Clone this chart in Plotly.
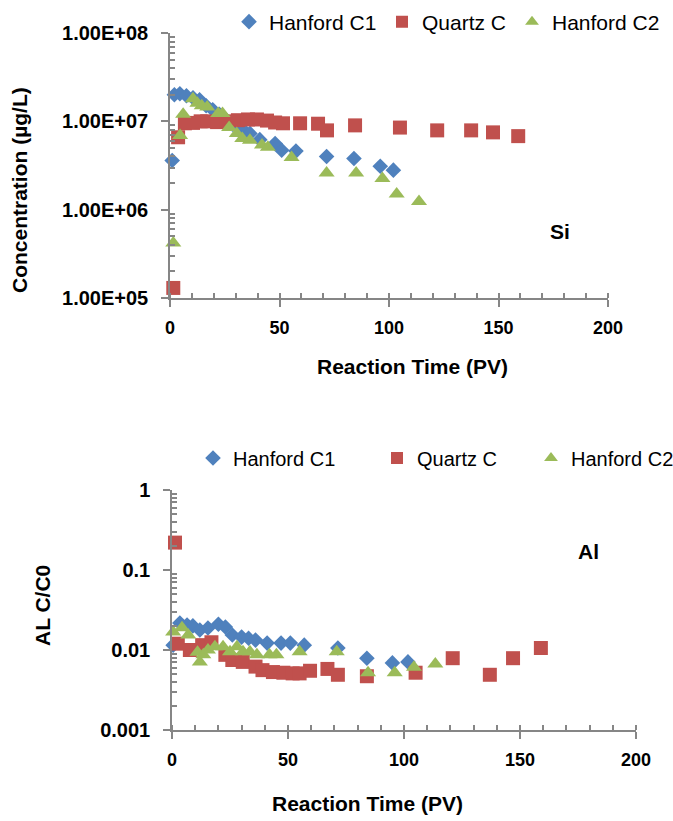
import plotly.graph_objects as go

# ---- Si concentration (upper panel) ----
si_c1_t = [1, 2, 4.5, 7.5, 10.5, 13.5, 16.5, 19.5, 22.5, 25.5, 28.5, 31.5, 34, 36.5, 41, 48, 51, 57.5, 71.5, 84, 96, 102]
si_c1 = [3.6e6, 2.0e7, 2.05e7, 1.95e7, 1.85e7, 1.75e7, 1.5e7, 1.35e7, 1.2e7, 1.05e7, 9.3e6, 8.4e6, 7.7e6, 7.3e6, 6.2e6, 5.6e6, 4.7e6, 4.6e6, 4.0e6, 3.8e6, 3.1e6, 2.8e6]

si_q_t = [1.5, 3.7, 6.8, 10.5, 14, 17, 21.5, 26, 31, 35.6, 39.7, 44.3, 48, 51.6, 59.4, 67.6, 71.7, 84.5, 105, 122, 137.5, 147.5, 159]
si_q = [1.3e5, 6.6e6, 9.5e6, 9.6e6, 1.0e7, 1.0e7, 9.8e6, 1.0e7, 1.03e7, 1.05e7, 1.05e7, 1.02e7, 9.7e6, 9.5e6, 9.5e6, 9.4e6, 7.9e6, 9.0e6, 8.5e6, 7.9e6, 7.9e6, 7.5e6, 6.8e6]

si_c2_t = [1.5, 4.6, 6, 10.5, 12.5, 14.5, 17, 22, 24, 27, 30.5, 33, 36.5, 42, 44.7, 55.5, 71.5, 85, 97, 103.5, 113.7]
si_c2 = [4.2e5, 6.9e6, 1.2e7, 1.8e7, 1.6e7, 1.5e7, 1.45e7, 1.23e7, 1.23e7, 8.5e6, 7.3e6, 6.4e6, 6.1e6, 5.4e6, 5.1e6, 3.9e6, 2.6e6, 2.6e6, 2.25e6, 1.5e6, 1.24e6]

si_tickvals = [1e5, 1e6, 1e7, 1e8]
si_ticktext = ["1.00E+05", "1.00E+06", "1.00E+07", "1.00E+08"]

# ---- Al normalised concentration (lower panel) ----
al_c1_t = [0.5, 3.4, 6.5, 9, 12, 15.5, 20, 23, 26, 30, 33, 36, 41, 47, 51, 57, 71.5, 84, 95, 101.7]
al_c1 = [0.0115, 0.0217, 0.0205, 0.02, 0.0178, 0.0188, 0.021, 0.0194, 0.0154, 0.0145, 0.014, 0.0133, 0.0122, 0.0122, 0.0122, 0.0115, 0.0106, 0.0079, 0.0069, 0.0071]

al_q_t = [1.3, 2.5, 7.7, 13, 17, 23, 26, 30.5, 36, 39, 43.5, 48, 52, 55, 59.5, 67, 71.5, 84, 105, 121, 137, 147, 159]
al_q = [0.22, 0.012, 0.01, 0.0115, 0.0125, 0.0087, 0.0075, 0.0071, 0.0062, 0.0056, 0.0053, 0.0052, 0.0051, 0.0051, 0.0055, 0.0058, 0.0049, 0.0047, 0.0052, 0.0079, 0.0049, 0.0079, 0.0106]

al_c2_t = [0.5, 4.3, 7, 11, 12, 13.5, 15.5, 18.5, 22, 25, 28, 30.6, 33.6, 36.6, 42, 45, 55, 71, 84.5, 96, 104.3, 113.5]
al_c2 = [0.0168, 0.019, 0.0154, 0.0094, 0.0071, 0.0087, 0.01, 0.011, 0.011, 0.0095, 0.011, 0.0095, 0.0095, 0.0087, 0.0087, 0.0087, 0.0095, 0.0095, 0.0052, 0.0052, 0.0061, 0.0067]

al_tickvals = [0.001, 0.01, 0.1, 1]
al_ticktext = ["0.001", "0.01", "0.1", "1"]

x_tickvals = [0, 50, 100, 150, 200]

series_names = ["Hanford C1", "Quartz C", "Hanford C2"]
BLUE, RED, GREEN = "#4F81BD", "#C0504D", "#9BBB59"
FONT = "Liberation Sans, Arial, sans-serif"
AXIS_GREY = "#868686"

W, H = 673, 821


def px_x(p):
    return p / W


def px_y(p):
    return 1 - p / H


fig = go.Figure()

styles = [
    dict(symbol="diamond", size=12, color=BLUE),
    dict(symbol="square", size=14, color=RED),
    dict(symbol="triangle-up", size=14, color=GREEN),
]

# each legend entry gets its own legend box so the entries can be spaced freely
panels = [
    ("x", "y", ["legend", "legend2", "legend3"],
     [(si_c1_t, si_c1), (si_q_t, si_q), (si_c2_t, si_c2)]),
    ("x2", "y2", ["legend4", "legend5", "legend6"],
     [(al_c1_t, al_c1), (al_q_t, al_q), (al_c2_t, al_c2)]),
]

for xa, ya, legends, series in panels:
    for name, st, lg, (t, v) in zip(series_names, styles, legends, series):
        fig.add_trace(go.Scatter(
            x=t, y=v, mode="markers", name=name,
            xaxis=xa, yaxis=ya, legend=lg,
            marker=dict(symbol=st["symbol"], size=st["size"], color=st["color"],
                        line=dict(width=0)),
            cliponaxis=False,
        ))


def log_minor(decades):
    return [m * 10 ** d for d in decades for m in range(2, 10)]


common_axis = dict(
    showline=True, linecolor=AXIS_GREY, linewidth=1.5,
    showgrid=False, zeroline=False, automargin=False,
    ticks="outside", ticklen=7, tickcolor=AXIS_GREY, tickwidth=1.5,
)

tick_font_x = dict(family=FONT, size=18, color="black", weight="bold")
tick_font_y = dict(family=FONT, size=20, color="black", weight="bold")

x_axis = dict(common_axis, range=[0, 200], tickvals=x_tickvals, tickfont=tick_font_x,
              ticklabelstandoff=6,
              minor=dict(tickmode="linear", dtick=10, ticks="inside", ticklen=5,
                         tickcolor=AXIS_GREY, tickwidth=1.5, showgrid=False))


def y_axis(rng, decades, vals, text, dom):
    return dict(common_axis, type="log", range=rng, domain=dom,
                tickvals=vals, ticktext=text, tickfont=tick_font_y, ticklabelstandoff=9,
                minor=dict(tickmode="array", tickvals=log_minor(decades), ticks="inside",
                           ticklen=5, tickcolor=AXIS_GREY, tickwidth=1.5, showgrid=False))


def legend_box(x_sym, y_mid, size):
    return dict(orientation="h", x=px_x(x_sym - 18), y=px_y(y_mid),
                xanchor="left", yanchor="middle",
                font=dict(family=FONT, size=size, color="black"),
                bgcolor="rgba(0,0,0,0)", itemsizing="constant")


fig.update_layout(
    width=W, height=H,
    margin=dict(l=0, r=0, t=0, b=0, autoexpand=False),
    paper_bgcolor="white", plot_bgcolor="white",
    showlegend=True,
    xaxis=dict(x_axis, domain=[px_x(170), px_x(608)], anchor="y"),
    yaxis=dict(y_axis([5, 8], [5, 6, 7], si_tickvals, si_ticktext, [px_y(298), px_y(33)]),
               anchor="x"),
    xaxis2=dict(x_axis, domain=[px_x(172), px_x(636)], anchor="y2"),
    yaxis2=dict(y_axis([-3, 0], [-3, -2, -1], al_tickvals, al_ticktext, [px_y(730), px_y(490)]),
                anchor="x2"),
    legend=legend_box(247, 22, 21),
    legend2=legend_box(400, 22, 21),
    legend3=legend_box(530, 22, 21),
    legend4=legend_box(211, 458, 20),
    legend5=legend_box(395, 458, 20),
    legend6=legend_box(549, 458, 20),
)

title_font = dict(family=FONT, size=21, color="black", weight="bold")
annotations = [
    dict(text="Reaction Time (PV)", x=px_x(412), y=px_y(366)),
    dict(text="Reaction Time (PV)", x=px_x(368), y=px_y(803)),
    dict(text="Concentration (µg/L)", x=px_x(20), y=px_y(190), textangle=-90),
    dict(text="AL C/C0", x=px_x(42), y=px_y(606), textangle=-90),
    dict(text="Si", x=px_x(560), y=px_y(232)),
    dict(text="Al", x=px_x(588), y=px_y(551)),
]
for a in annotations:
    fig.add_annotation(dict(a, xref="paper", yref="paper", showarrow=False,
                            xanchor="center", yanchor="middle", font=title_font))

fig.write_html("out.html")
